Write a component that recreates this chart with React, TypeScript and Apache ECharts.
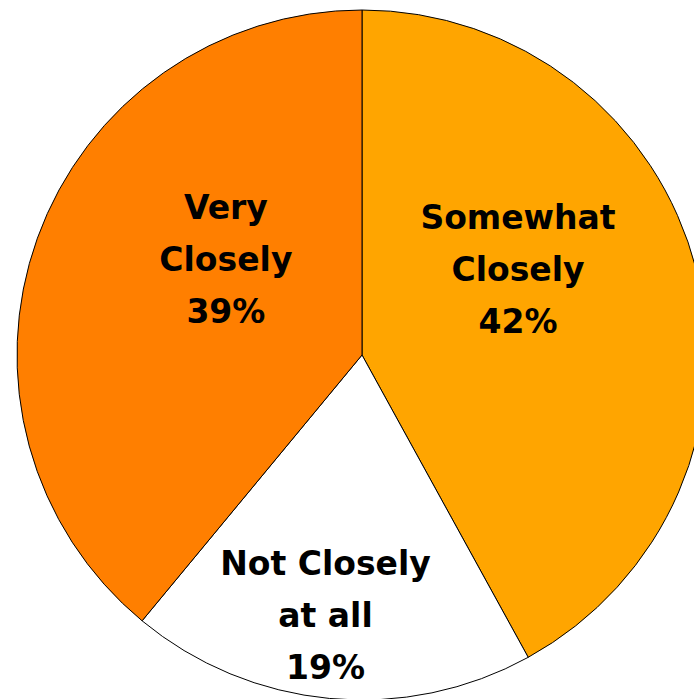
import React, { useEffect, useRef } from "react";
import * as echarts from "echarts";

const categories = ["Somewhat\nClosely", "Not Closely\nat all", "Very\nClosely"];
const values = [42, 19, 39];
const colors = ["#FFA500", "#FFFFFF", "#FF7F00"];
const labelOffsets: [number, number][] = [[-14, -42], [-20, 86], [29, -36]];

export default function App() {
  const ref = useRef<HTMLDivElement>(null);
  useEffect(() => {
    if (!ref.current) return;
    const chart = echarts.init(ref.current, undefined, { renderer: "svg" });
    chart.setOption({
      animation: false,
      backgroundColor: "#ffffff",
      series: [
        {
          type: "pie",
          center: [362, 355],
          radius: [0, 345],
          startAngle: 90,
          clockwise: true,
          avoidLabelOverlap: false,
          itemStyle: { borderColor: "#000000", borderWidth: 1 },
          label: {
            show: true,
            position: "inside",
            color: "#000000",
            fontFamily: "DejaVu Sans, Liberation Sans, Arial, sans-serif",
            fontWeight: "bold",
            fontSize: 33,
            lineHeight: 52,
            formatter: (p: any) => `${p.name}\n${p.value}%`,
          },
          labelLine: { show: false },
          emphasis: { disabled: true },
          data: categories.map((c, i) => ({
            name: c,
            value: values[i],
            itemStyle: { color: colors[i] },
            label: { offset: labelOffsets[i] },
          })),
        },
      ],
    });
    return () => chart.dispose();
  }, []);
  return (
    <div
      ref={ref}
      style={{ position: "fixed", left: 0, top: 0, width: 694, height: 699 }}
    />
  );
}
